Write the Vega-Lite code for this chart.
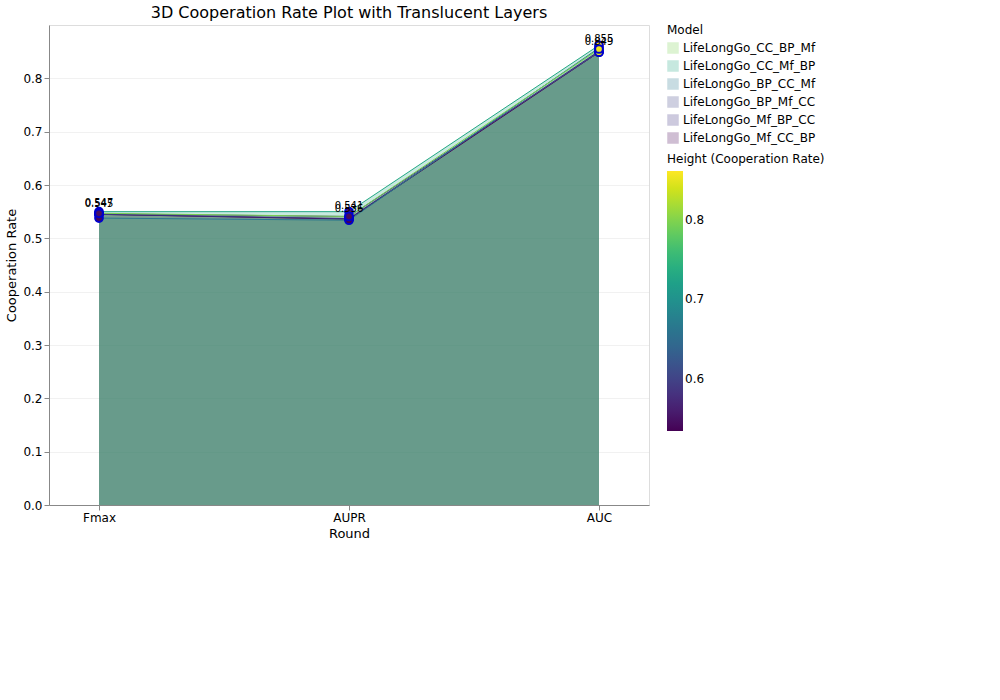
{
"$schema":"https://vega.github.io/schema/vega-lite/v6.json",
"title":{"text":"3D Cooperation Rate Plot with Translucent Layers","fontSize":16,"fontWeight":"normal","font":"DejaVu Sans"},
"width":600,"height":480,
"config":{"font":"DejaVu Sans","axis":{"labelFontSize":12,"titleFontSize":13,"titleFontWeight":"normal","gridOpacity":0.4},"legend":{"labelFontSize":12,"titleFontSize":12,"titleFontWeight":"normal"}},
"data":{"values":[
{"model":"LifeLongGo_Mf_CC_BP","order":1,"round":"Fmax","rate":0.545},
{"model":"LifeLongGo_Mf_CC_BP","order":1,"round":"AUPR","rate":0.536},
{"model":"LifeLongGo_Mf_CC_BP","order":1,"round":"AUC","rate":0.849},
{"model":"LifeLongGo_Mf_BP_CC","order":2,"round":"Fmax","rate":0.545},
{"model":"LifeLongGo_Mf_BP_CC","order":2,"round":"AUPR","rate":0.537},
{"model":"LifeLongGo_Mf_BP_CC","order":2,"round":"AUC","rate":0.851},
{"model":"LifeLongGo_BP_Mf_CC","order":3,"round":"Fmax","rate":0.546},
{"model":"LifeLongGo_BP_Mf_CC","order":3,"round":"AUPR","rate":0.541},
{"model":"LifeLongGo_BP_Mf_CC","order":3,"round":"AUC","rate":0.849},
{"model":"LifeLongGo_BP_CC_Mf","order":4,"round":"Fmax","rate":0.538},
{"model":"LifeLongGo_BP_CC_Mf","order":4,"round":"AUPR","rate":0.534},
{"model":"LifeLongGo_BP_CC_Mf","order":4,"round":"AUC","rate":0.857},
{"model":"LifeLongGo_CC_Mf_BP","order":5,"round":"Fmax","rate":0.550},
{"model":"LifeLongGo_CC_Mf_BP","order":5,"round":"AUPR","rate":0.550},
{"model":"LifeLongGo_CC_Mf_BP","order":5,"round":"AUC","rate":0.862},
{"model":"LifeLongGo_CC_BP_Mf","order":6,"round":"Fmax","rate":0.547},
{"model":"LifeLongGo_CC_BP_Mf","order":6,"round":"AUPR","rate":0.541},
{"model":"LifeLongGo_CC_BP_Mf","order":6,"round":"AUC","rate":0.855}
]},
"encoding":{
"x":{"field":"round","type":"ordinal","sort":["Fmax","AUPR","AUC"],"title":"Round","axis":{"labelAngle":0},"scale":{"padding":0.2}},
"y":{"field":"rate","type":"quantitative","stack":null,"title":"Cooperation Rate","scale":{"domain":[0,0.9]},"axis":{"values":[0,0.1,0.2,0.3,0.4,0.5,0.6,0.7,0.8]}}
},
"layer":[
{"mark":{"type":"area","opacity":0.25,"line":{"strokeWidth":1}},
 "encoding":{"color":{"field":"model","type":"nominal",
  "scale":{"domain":["LifeLongGo_CC_BP_Mf","LifeLongGo_CC_Mf_BP","LifeLongGo_BP_CC_Mf","LifeLongGo_BP_Mf_CC","LifeLongGo_Mf_BP_CC","LifeLongGo_Mf_CC_BP"],
  "range":["#7ad151","#22a884","#2a788e","#414487","#3b2f80","#440154"]},"title":"Model","legend":{"orient":"right","symbolType":"square"}}}},
{"mark":{"type":"point","filled":true,"size":60,"opacity":1},
 "encoding":{"fill":{"field":"rate","type":"quantitative","scale":{"scheme":"viridis","domain":[0.534,0.862]},"title":"Height (Cooperation Rate)","legend":{"gradientLength":260,"orient":"right"}},"stroke":{"value":"#0000cc"}}},
{"mark":{"type":"text","dy":-10,"fontSize":10},
 "transform":[{"filter":"datum.order==1 || datum.order==6"}],
 "encoding":{"text":{"field":"rate","type":"quantitative","format":".3f"},"detail":{"field":"model"}}}
],
"resolve":{"scale":{"color":"independent","fill":"independent"}}
}
